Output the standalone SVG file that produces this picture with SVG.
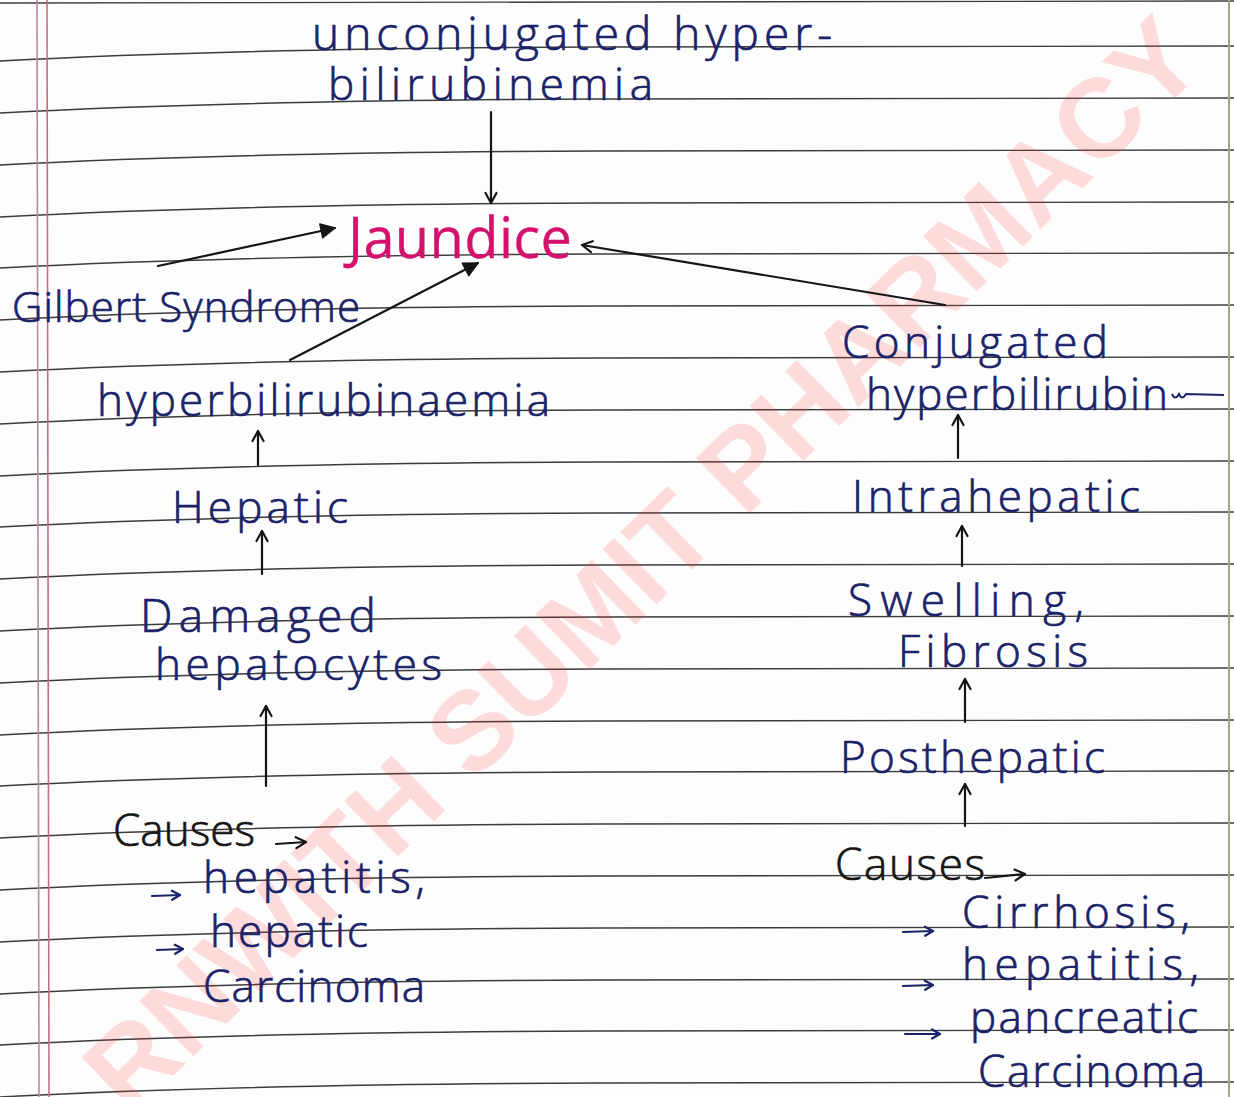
<svg xmlns="http://www.w3.org/2000/svg" width="1234" height="1097" viewBox="0 0 1234 1097">
<defs>
<style>
.rule{fill:none;stroke:#3c3c3c;stroke-width:1.4}
.ink{font-family:"Open Sans","Lato","DejaVu Sans",sans-serif;font-weight:300;fill:#1a2268;stroke:#1a2268;stroke-width:0.7;font-size:44px}
.blk{fill:#151515;stroke:#151515}
.mag{fill:#d4126e;stroke:#d4126e;font-weight:400;stroke-width:0.3}
.wm{font-family:"Liberation Sans","Arial",sans-serif;font-weight:bold;fill:#ff2a2a;fill-opacity:0.16}
.c{fill:none;stroke:#151515;stroke-width:2.2;stroke-linecap:round}
.cn{fill:none;stroke:#1a2268;stroke-width:2.2;stroke-linecap:round}
</style>
<marker id="hb" viewBox="0 0 14 14" refX="12" refY="7" markerWidth="14" markerHeight="14" markerUnits="userSpaceOnUse" orient="auto">
<path d="M2,1.5 L12,7 L2,12.5" fill="none" stroke="#151515" stroke-width="2.2" stroke-linecap="round" stroke-linejoin="round"/>
</marker>
<marker id="hbf" viewBox="0 0 18 18" refX="16" refY="9" markerWidth="18" markerHeight="18" markerUnits="userSpaceOnUse" orient="auto">
<path d="M2,2 L16,9 L2,16 Z" fill="#151515" stroke="#151515" stroke-width="1.5" stroke-linejoin="round"/>
</marker>
<marker id="hn" viewBox="0 0 12 12" refX="10" refY="6" markerWidth="12" markerHeight="12" markerUnits="userSpaceOnUse" orient="auto">
<path d="M2,1.5 L10,6 L2,10.5" fill="none" stroke="#1a2268" stroke-width="2.2" stroke-linecap="round" stroke-linejoin="round"/>
</marker>
</defs>
<rect width="1234" height="1097" fill="#fdfdfd"/>
<g id="ruling">
<path class="rule" d="M0,3 L1234,1"/>
<path class="rule" d="M0,61 C150,53 350,48 600,47 L1234,46"/>
<path class="rule" d="M0,113 C150,105 350,100 600,99 L1234,98"/>
<path class="rule" d="M0,165 C150,157 350,152 600,151 L1234,150"/>
<path class="rule" d="M0,217 C150,209 350,204 600,203 L1234,202"/>
<path class="rule" d="M0,268 C150,260 350,255 600,254 L1234,253"/>
<path class="rule" d="M0,320 C150,312 350,307 600,306 L1234,305"/>
<path class="rule" d="M0,372 C150,364 350,359 600,358 L1234,357"/>
<path class="rule" d="M0,424 C150,416 350,411 600,410 L1234,409"/>
<path class="rule" d="M0,476 C150,468 350,463 600,462 L1234,461"/>
<path class="rule" d="M0,527 C150,519 350,514 600,513 L1234,512"/>
<path class="rule" d="M0,579 C150,571 350,566 600,565 L1234,564"/>
<path class="rule" d="M0,631 C150,623 350,618 600,617 L1234,616"/>
<path class="rule" d="M0,683 C150,675 350,670 600,669 L1234,668"/>
<path class="rule" d="M0,735 C150,727 350,722 600,721 L1234,720"/>
<path class="rule" d="M0,786 C150,778 350,773 600,772 L1234,771"/>
<path class="rule" d="M0,838 C150,830 350,825 600,824 L1234,823"/>
<path class="rule" d="M0,890 C150,882 350,877 600,876 L1234,875"/>
<path class="rule" d="M0,942 C150,934 350,929 600,928 L1234,927"/>
<path class="rule" d="M0,994 C150,986 350,981 600,980 L1234,979"/>
<path class="rule" d="M0,1045 C150,1037 350,1032 600,1031 L1234,1030"/>
<path class="rule" d="M0,1097 C150,1089 350,1084 600,1083 L1234,1082"/>
<line x1="37" y1="0" x2="39" y2="1097" stroke="#b98a95" stroke-width="1.6"/>
<line x1="47" y1="0" x2="49" y2="1097" stroke="#c46f80" stroke-width="1.6"/>
<line x1="1229" y1="0" x2="1229" y2="1097" stroke="#a8a38a" stroke-width="2"/>
</g>
<text class="wm" font-size="112" transform="translate(130,1118) rotate(-44.3)">RNWITH SUMIT PHARMACY</text>
<g id="connectors">
<line class="c" x1="491" y1="112" x2="491" y2="203" marker-end="url(#hb)"/>
<line class="c" x1="158" y1="266" x2="335" y2="228" stroke-width="3" marker-end="url(#hbf)"/>
<line class="c" x1="290" y1="360" x2="478" y2="263" marker-end="url(#hbf)"/>
<line class="c" x1="945" y1="305" x2="582" y2="245" stroke-width="2.8" marker-end="url(#hb)"/>
<line class="c" x1="258" y1="465" x2="258" y2="431" marker-end="url(#hb)"/>
<line class="c" x1="262" y1="574" x2="262" y2="531" marker-end="url(#hb)"/>
<line class="c" x1="266" y1="786" x2="266" y2="706" marker-end="url(#hb)"/>
<line class="c" x1="958" y1="458" x2="958" y2="415" marker-end="url(#hb)"/>
<line class="c" x1="962" y1="566" x2="962" y2="526" marker-end="url(#hb)"/>
<line class="c" x1="965" y1="722" x2="965" y2="679" marker-end="url(#hb)"/>
<line class="c" x1="965" y1="826" x2="965" y2="784" marker-end="url(#hb)"/>
<line class="c" x1="276" y1="844" x2="306" y2="842" marker-end="url(#hb)"/>
<line class="cn" x1="152" y1="896" x2="180" y2="895" marker-end="url(#hn)"/>
<line class="cn" x1="157" y1="950" x2="183" y2="949" marker-end="url(#hn)"/>
<line class="c" x1="985" y1="878" x2="1025" y2="874" marker-end="url(#hb)"/>
<line class="cn" x1="903" y1="932" x2="933" y2="931" marker-end="url(#hn)"/>
<line class="cn" x1="903" y1="986" x2="933" y2="985" marker-end="url(#hn)"/>
<line class="cn" x1="905" y1="1034" x2="940" y2="1034" marker-end="url(#hn)"/>
</g>
<g id="unconjugated">
<text class="ink" x="312" y="50" style="font-size:46px" textLength="520" lengthAdjust="spacing">unconjugated hyper-</text>
<text class="ink" x="328" y="100" textLength="325" lengthAdjust="spacing">bilirubinemia</text>
</g>
<g id="jaundice"><text class="ink mag" x="348" y="258" style="font-size:56px" textLength="224" lengthAdjust="spacing">Jaundice</text></g>
<g id="gilbert"><text class="ink" x="12" y="322" style="font-size:42px" textLength="348" lengthAdjust="spacing">Gilbert Syndrome</text></g>
<g id="hyperbili-left"><text class="ink" x="97" y="416" textLength="453" lengthAdjust="spacing">hyperbilirubinaemia</text></g>
<g id="hepatic"><text class="ink" x="172" y="523" textLength="176" lengthAdjust="spacing">Hepatic</text></g>
<g id="damaged">
<text class="ink" x="140" y="632" style="font-size:46px" textLength="236" lengthAdjust="spacing">Damaged</text>
<text class="ink" x="155" y="680" textLength="287" lengthAdjust="spacing">hepatocytes</text>
</g>
<g id="causes-left">
<text class="ink blk" x="113" y="846" textLength="142" lengthAdjust="spacing">Causes</text>
<text class="ink" x="203" y="893" textLength="222" lengthAdjust="spacing">hepatitis,</text>
<text class="ink" x="210" y="947" textLength="158" lengthAdjust="spacing">hepatic</text>
<text class="ink" x="203" y="1002" textLength="222" lengthAdjust="spacing">Carcinoma</text>
</g>
<g id="conjugated">
<text class="ink" x="842" y="358" textLength="266" lengthAdjust="spacing">Conjugated</text>
<text class="ink" x="866" y="410" textLength="302" lengthAdjust="spacing">hyperbilirubin</text>
<path d="M1172,394 q3,7 7,0 q3,7 7,0 L1224,395" fill="none" stroke="#1a2268" stroke-width="2"/>
</g>
<g id="intrahepatic"><text class="ink" x="852" y="512" textLength="288" lengthAdjust="spacing">Intrahepatic</text></g>
<g id="swelling">
<text class="ink" x="848" y="616" textLength="236" lengthAdjust="spacing">Swelling,</text>
<text class="ink" x="898" y="667" textLength="190" lengthAdjust="spacing">Fibrosis</text>
</g>
<g id="posthepatic"><text class="ink" x="840" y="773" textLength="265" lengthAdjust="spacing">Posthepatic</text></g>
<g id="causes-right">
<text class="ink blk" x="835" y="880" textLength="150" lengthAdjust="spacing">Causes</text>
<text class="ink" x="962" y="928" textLength="228" lengthAdjust="spacing">Cirrhosis,</text>
<text class="ink" x="962" y="980" textLength="237" lengthAdjust="spacing">hepatitis,</text>
<text class="ink" x="970" y="1033" textLength="228" lengthAdjust="spacing">pancreatic</text>
<text class="ink" x="978" y="1087" textLength="227" lengthAdjust="spacing">Carcinoma</text>
</g>
</svg>
